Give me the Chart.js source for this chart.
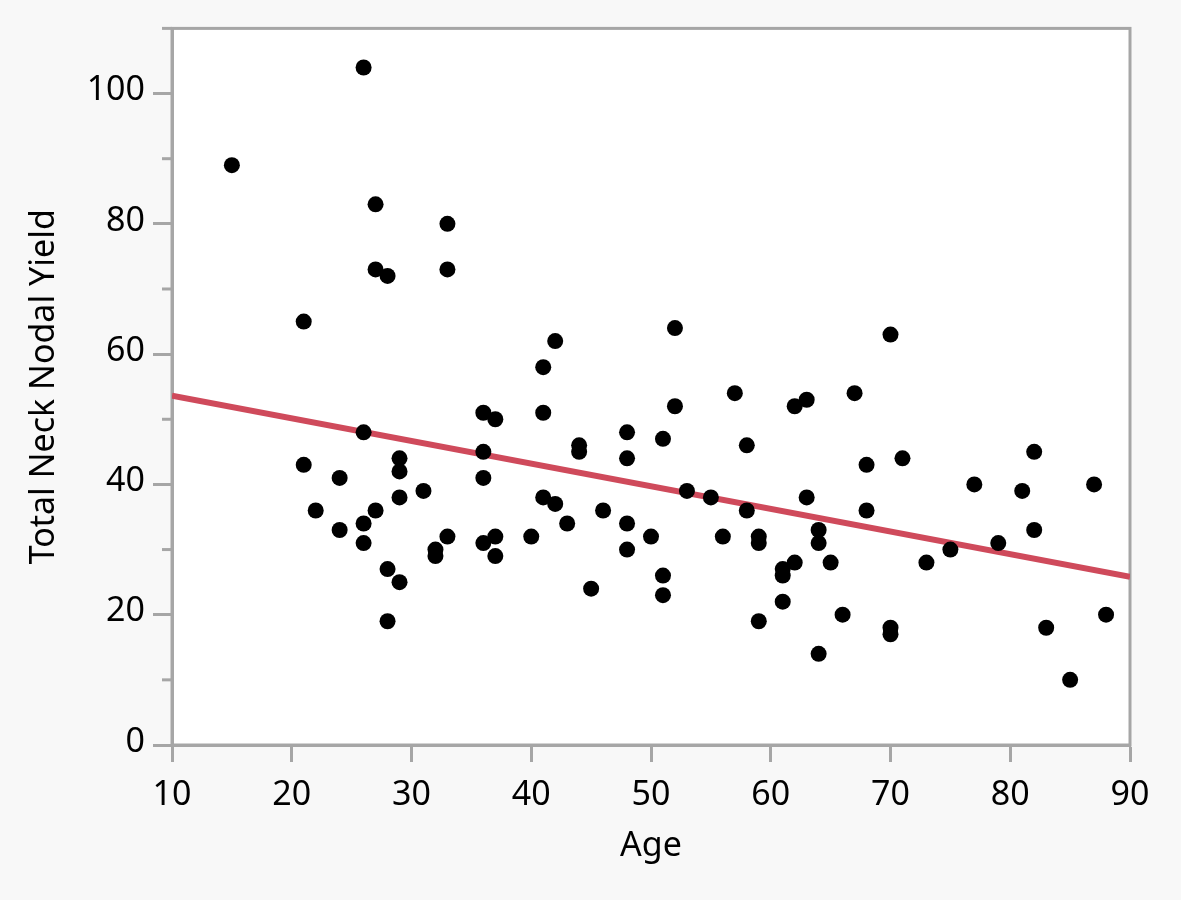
<!DOCTYPE html>
<html>
<head>
<meta charset="utf-8">
<title>Total Neck Nodal Yield vs Age</title>
<script src="https://cdn.jsdelivr.net/npm/chart.js@4.4.1/dist/chart.umd.min.js"></script>
<style>
  html, body { margin: 0; padding: 0; background: #f8f8f8; }
  #wrap { width: 1181px; height: 900px; }
</style>
</head>
<body>
<div id="wrap"><canvas id="scatterChart"></canvas></div>
<script>
// values
const ages = [
  15, 21, 21, 22, 24, 24, 26, 26, 26, 26, 27, 27, 27, 28, 28, 28, 29, 29, 29, 29,
  31, 32, 32, 33, 33, 33, 36, 36, 36, 36, 37, 37, 37, 40, 41, 41, 41, 42, 42, 43,
  44, 44, 45, 46, 48, 48, 48, 48, 50, 51, 51, 51, 52, 52, 53, 55, 56, 57, 58, 58,
  59, 59, 59, 61, 61, 61, 62, 62, 63, 63, 64, 64, 64, 65, 66, 67, 68, 68, 70, 70,
  70, 71, 73, 75, 77, 79, 81, 82, 82, 83, 85, 87, 88
];
const yields = [
  89, 65, 43, 36, 41, 33, 104, 48, 34, 31, 83, 73, 36, 72, 27, 19, 44, 42, 38, 25,
  39, 30, 29, 80, 73, 32, 51, 45, 41, 31, 50, 32, 29, 32, 58, 51, 38, 62, 37, 34,
  46, 45, 24, 36, 48, 44, 34, 30, 32, 47, 26, 23, 64, 52, 39, 38, 32, 54, 46, 36,
  32, 31, 19, 27, 26, 22, 52, 28, 53, 38, 33, 31, 14, 28, 20, 54, 43, 36, 63, 18,
  17, 44, 28, 30, 40, 31, 39, 45, 33, 18, 10, 40, 20
];

// fitted line, end points as drawn
const fitAges = [10, 90];
const fitYields = [53.6, 25.8];

const yMinorTicks = [10, 30, 50, 70, 90, 110];

const axisGray = '#a6a6a6';
const labelFont = { family: '"Noto Sans", sans-serif', size: 34, lineHeight: 1.2 };

const points = ages.map((a, i) => ({ x: a, y: yields[i] }));
const fitLine = fitAges.map((a, i) => ({ x: a, y: fitYields[i] }));

// white plot area, frame and minor y ticks
const plotFrame = {
  id: 'plotFrame',
  beforeDraw(chart) {
    const { ctx, chartArea: a } = chart;
    ctx.save();
    ctx.fillStyle = '#ffffff';
    ctx.fillRect(a.left, a.top, a.right - a.left, a.bottom - a.top);
    ctx.restore();
  },
  beforeDatasetsDraw(chart) {
    const { ctx, chartArea: a, scales } = chart;
    ctx.save();
    ctx.strokeStyle = axisGray;
    ctx.lineWidth = 3;
    ctx.strokeRect(a.left, a.top, a.right - a.left, a.bottom - a.top);
    yMinorTicks.forEach(v => {
      const y = scales.y.getPixelForValue(v);
      ctx.beginPath();
      ctx.moveTo(a.left - 10, y);
      ctx.lineTo(a.left, y);
      ctx.stroke();
    });
    ctx.restore();
  }
};

document.addEventListener('DOMContentLoaded', function () {
  const ctx = document.getElementById('scatterChart').getContext('2d');
  new Chart(ctx, {
    type: 'scatter',
    data: {
      datasets: [
        {
          label: 'Total Neck Nodal Yield',
          data: points,
          backgroundColor: '#000000',
          borderColor: '#000000',
          pointRadius: 8,
          pointBorderWidth: 0,
          order: 1
        },
        {
          type: 'line',
          label: 'Fit',
          data: fitLine,
          borderColor: '#cf4a5b',
          borderWidth: 6,
          pointRadius: 0,
          fill: false,
          order: 2
        }
      ]
    },
    options: {
      responsive: true,
      maintainAspectRatio: false,
      animation: false,
      events: [],
      layout: { padding: { left: 24, right: 51, top: 27, bottom: 33 } },
      plugins: {
        legend: { display: false },
        tooltip: { enabled: false }
      },
      scales: {
        x: {
          type: 'linear',
          min: 10,
          max: 90,
          ticks: { stepSize: 10, color: '#000', font: labelFont, padding: 13, maxRotation: 0 },
          grid: { drawOnChartArea: false, drawTicks: true, tickLength: 17, tickColor: axisGray, tickWidth: 3 },
          border: { color: axisGray, width: 3 },
          title: { display: true, text: 'Age', color: '#000', font: labelFont, padding: 0 },
          afterFit(scale) { scale.height = 122; }
        },
        y: {
          type: 'linear',
          min: 0,
          max: 110,
          ticks: { stepSize: 20, includeBounds: false, color: '#000', font: labelFont, padding: 8, labelOffset: -3 },
          grid: { drawOnChartArea: false, drawTicks: true, tickLength: 19, tickColor: axisGray, tickWidth: 3 },
          border: { color: axisGray, width: 3 },
          title: { display: true, text: 'Total Neck Nodal Yield', color: '#000', font: labelFont, padding: 0 },
          afterFit(scale) { scale.width = 148; }
        }
      }
    },
    plugins: [plotFrame]
  });
});
</script>
</body>
</html>
